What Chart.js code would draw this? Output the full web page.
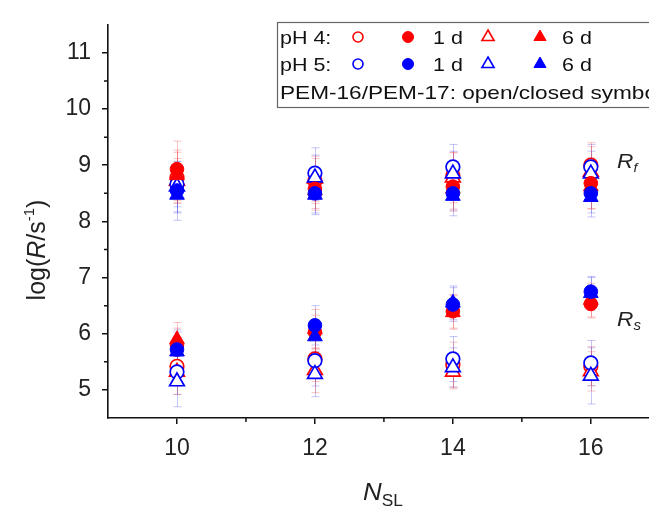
<!DOCTYPE html>
<html><head><meta charset="utf-8">
<script src="https://cdn.jsdelivr.net/npm/chart.js@4/dist/chart.umd.min.js"></script>
<style>
html,body{margin:0;padding:0;background:#fff;overflow:hidden;width:649px;height:508px}
#wrap{position:absolute;left:0;top:0;width:670px;height:508px}
</style>
</head><body><div id="wrap"><canvas id="c" width="670" height="508"></canvas></div>
<script>
// ---- categories / ticks ----
const nSL = [10, 12, 14, 16];
const xTicks = [10, 12, 14, 16];
const xMinorTicks = [11, 13, 15];
const yTicks = [5, 6, 7, 8, 9, 10, 11];
const yMinorTicks = [5.5, 6.5, 7.5, 8.5, 9.5, 10.5];

// ---- log(R_f) values (upper group) ----
const pH4_PEM16_1d_Rf = [8.78, 8.72, 8.82, 9.00];
const pH4_PEM17_1d_Rf = [8.93, 8.58, 8.62, 8.68];
const pH4_PEM16_6d_Rf = [8.72, 8.76, 8.78, 8.88];
const pH4_PEM17_6d_Rf = [8.82, 8.55, 8.58, 8.62];
const pH5_PEM16_1d_Rf = [8.66, 8.86, 8.97, 8.97];
const pH5_PEM17_1d_Rf = [8.55, 8.50, 8.50, 8.50];
const pH5_PEM16_6d_Rf = [8.62, 8.78, 8.85, 8.85];
const pH5_PEM17_6d_Rf = [8.47, 8.47, 8.45, 8.43];
// ---- log(R_s) values (lower group) ----
const pH4_PEM16_1d_Rs = [5.42, 5.55, 5.45, 5.42];
const pH4_PEM17_1d_Rs = [5.80, 6.03, 6.40, 6.53];
const pH4_PEM16_6d_Rs = [5.32, 5.35, 5.32, 5.33];
const pH4_PEM17_6d_Rs = [5.90, 6.08, 6.38, 6.60];
const pH5_PEM16_1d_Rs = [5.32, 5.52, 5.55, 5.48];
const pH5_PEM17_1d_Rs = [5.72, 6.15, 6.52, 6.75];
const pH5_PEM16_6d_Rs = [5.15, 5.28, 5.40, 5.25];
const pH5_PEM17_6d_Rs = [5.68, 5.95, 6.55, 6.72];
// ---- error bars (± in log units) ----
const pH4_PEM16_1d_Rf_err = [0.45, 0.40, 0.40, 0.40];
const pH4_PEM17_1d_Rf_err = [0.50, 0.35, 0.40, 0.45];
const pH4_PEM16_6d_Rf_err = [0.40, 0.40, 0.45, 0.45];
const pH4_PEM17_6d_Rf_err = [0.45, 0.35, 0.40, 0.40];
const pH5_PEM16_1d_Rf_err = [0.40, 0.45, 0.40, 0.40];
const pH5_PEM17_1d_Rf_err = [0.40, 0.35, 0.30, 0.35];
const pH5_PEM16_6d_Rf_err = [0.45, 0.40, 0.40, 0.40];
const pH5_PEM17_6d_Rf_err = [0.45, 0.35, 0.35, 0.35];
const pH4_PEM16_1d_Rs_err = [0.35, 0.40, 0.40, 0.35];
const pH4_PEM17_1d_Rs_err = [0.30, 0.30, 0.30, 0.25];
const pH4_PEM16_6d_Rs_err = [0.40, 0.40, 0.30, 0.35];
const pH4_PEM17_6d_Rs_err = [0.30, 0.35, 0.30, 0.30];
const pH5_PEM16_1d_Rs_err = [0.40, 0.45, 0.40, 0.40];
const pH5_PEM17_1d_Rs_err = [0.35, 0.35, 0.30, 0.25];
const pH5_PEM16_6d_Rs_err = [0.45, 0.40, 0.35, 0.50];
const pH5_PEM17_6d_Rs_err = [0.35, 0.30, 0.30, 0.30];

const RED = '#ff0000', BLUE = '#0000ff';
const FONT = "'Liberation Sans', Arial, sans-serif";

function pts(a, b) {
  return nSL.map((x, i) => ({x, y: a[i]})).concat(nSL.map((x, i) => ({x, y: b[i]})));
}
function mk(label, rf, rs, ef, es, color, style, filled) {
  return {
    label, data: pts(rf, rs), errors: ef.concat(es),
    errColor: color === RED ? 'rgba(235,70,70,0.32)' : 'rgba(70,70,235,0.32)',
    pointStyle: style,
    pointRadius: style === 'triangle' ? 8.5 : 6.8,
    pointBackgroundColor: filled ? color : '#ffffff',
    pointBorderColor: color,
    pointBorderWidth: filled ? 1 : 1.7,
    showLine: false
  };
}
// index 0 is drawn on top
const datasets = [
  mk('pH 5 PEM-17 6 d', pH5_PEM17_6d_Rf, pH5_PEM17_6d_Rs, pH5_PEM17_6d_Rf_err, pH5_PEM17_6d_Rs_err, BLUE, 'triangle', true),
  mk('pH 5 PEM-17 1 d', pH5_PEM17_1d_Rf, pH5_PEM17_1d_Rs, pH5_PEM17_1d_Rf_err, pH5_PEM17_1d_Rs_err, BLUE, 'circle', true),
  mk('pH 4 PEM-17 6 d', pH4_PEM17_6d_Rf, pH4_PEM17_6d_Rs, pH4_PEM17_6d_Rf_err, pH4_PEM17_6d_Rs_err, RED, 'triangle', true),
  mk('pH 4 PEM-17 1 d', pH4_PEM17_1d_Rf, pH4_PEM17_1d_Rs, pH4_PEM17_1d_Rf_err, pH4_PEM17_1d_Rs_err, RED, 'circle', true),
  mk('pH 5 PEM-16 6 d', pH5_PEM16_6d_Rf, pH5_PEM16_6d_Rs, pH5_PEM16_6d_Rf_err, pH5_PEM16_6d_Rs_err, BLUE, 'triangle', false),
  mk('pH 5 PEM-16 1 d', pH5_PEM16_1d_Rf, pH5_PEM16_1d_Rs, pH5_PEM16_1d_Rf_err, pH5_PEM16_1d_Rs_err, BLUE, 'circle', false),
  mk('pH 4 PEM-16 6 d', pH4_PEM16_6d_Rf, pH4_PEM16_6d_Rs, pH4_PEM16_6d_Rf_err, pH4_PEM16_6d_Rs_err, RED, 'triangle', false),
  mk('pH 4 PEM-16 1 d', pH4_PEM16_1d_Rf, pH4_PEM16_1d_Rs, pH4_PEM16_1d_Rf_err, pH4_PEM16_1d_Rs_err, RED, 'circle', false)
];

function drawMarker(ctx, style, x, y, r, color, filled) {
  ctx.save();
  ctx.beginPath();
  if (style === 'circle') {
    ctx.arc(x, y, r, 0, Math.PI * 2);
  } else {
    let a = 0;
    for (let k = 0; k < 3; k++) {
      const px = x + Math.sin(a) * r, py = y - Math.cos(a) * r;
      if (k === 0) ctx.moveTo(px, py); else ctx.lineTo(px, py);
      a += Math.PI * 2 / 3;
    }
    ctx.closePath();
  }
  ctx.fillStyle = filled ? color : '#fff';
  ctx.fill();
  ctx.lineWidth = filled ? 1 : 1.6;
  ctx.strokeStyle = color;
  ctx.stroke();
  ctx.restore();
}

function drawRich(ctx, parts, x, y, align, sx) {
  // parts: [text, font, dy]; sx = horizontal stretch
  sx = sx || 1;
  let w = 0;
  parts.forEach(p => { ctx.font = p[1]; w += ctx.measureText(p[0]).width; });
  ctx.save();
  ctx.translate(x, y);
  ctx.scale(sx, 1);
  let cx = align === 'center' ? -w / 2 : 0;
  parts.forEach(p => {
    ctx.font = p[1];
    ctx.fillText(p[0], cx, p[2] || 0);
    cx += ctx.measureText(p[0]).width;
  });
  ctx.restore();
}

const extras = {
  id: 'extras',
  beforeDatasetsDraw(chart) {
    const ctx = chart.ctx, ys = chart.scales.y;
    chart.data.datasets.forEach((ds, i) => {
      const meta = chart.getDatasetMeta(i);
      ctx.save();
      ctx.strokeStyle = ds.errColor;
      ctx.lineWidth = 1;
      meta.data.forEach((pt, j) => {
        const v = ds.data[j].y, e = ds.errors[j];
        const x = Math.round(pt.x) + 0.5;
        const y1 = ys.getPixelForValue(v + e), y2 = ys.getPixelForValue(v - e);
        ctx.beginPath();
        ctx.moveTo(x, y1); ctx.lineTo(x, y2);
        ctx.moveTo(x - 4, y1); ctx.lineTo(x + 4, y1);
        ctx.moveTo(x - 4, y2); ctx.lineTo(x + 4, y2);
        ctx.stroke();
      });
      ctx.restore();
    });
  },
  afterDraw(chart) {
    const ctx = chart.ctx, xs = chart.scales.x, ys = chart.scales.y, ca = chart.chartArea;
    ctx.save();
    // minor ticks
    ctx.strokeStyle = '#111';
    ctx.lineWidth = 1.5;
    ctx.beginPath();
    xMinorTicks.forEach(v => {
      const x = xs.getPixelForValue(v);
      ctx.moveTo(x, ca.bottom); ctx.lineTo(x, ca.bottom + 4);
    });
    yMinorTicks.forEach(v => {
      const y = ys.getPixelForValue(v);
      ctx.moveTo(ca.left, y); ctx.lineTo(ca.left - 4, y);
    });
    ctx.stroke();

    ctx.fillStyle = '#222';
    ctx.textBaseline = 'alphabetic';
    // y axis title
    ctx.save();
    ctx.translate(45, 250);
    ctx.rotate(-Math.PI / 2);
    drawRich(ctx, [
      ['log(', '25px ' + FONT],
      ['R', 'italic 25px ' + FONT],
      ['/s', '25px ' + FONT],
      ['-1', '15px ' + FONT, -11],
      [')', '25px ' + FONT]
    ], 0, 0, 'center');
    ctx.restore();
    // x axis title
    drawRich(ctx, [
      ['N', 'italic 24px ' + FONT],
      ['SL', '16px ' + FONT, 6]
    ], 383, 500, 'center', 1.08);
    // group labels
    drawRich(ctx, [['R', 'italic 21px ' + FONT], ['f', 'italic 13px ' + FONT, 4]], 617, 168, 'left', 1.08);
    drawRich(ctx, [['R', 'italic 21px ' + FONT], ['s', 'italic 14px ' + FONT, 4]], 617, 326, 'left', 1.08);

    // legend box
    ctx.strokeStyle = '#666';
    ctx.lineWidth = 1.2;
    ctx.strokeRect(277.5, 22.5, 420, 85);
    const LF = '19px ' + FONT;
    const rows = [[44, 'pH 4:', RED], [71, 'pH 5:', BLUE]];
    rows.forEach(([by, lab, col]) => {
      const cy = by - 7;
      ctx.fillStyle = '#111';
      drawRich(ctx, [[lab, LF]], 280, by, 'left', 1.13);
      drawMarker(ctx, 'circle', 358, cy, 5, col, false);
      drawMarker(ctx, 'circle', 408, cy, 5.5, col, true);
      ctx.fillStyle = '#111';
      drawRich(ctx, [['1 d', LF]], 433, by, 'left', 1.13);
      drawMarker(ctx, 'triangle', 488, cy, 7, col, false);
      drawMarker(ctx, 'triangle', 540, cy, 7, col, true);
      ctx.fillStyle = '#111';
      drawRich(ctx, [['6 d', LF]], 562, by, 'left', 1.13);
    });
    ctx.fillStyle = '#111';
    drawRich(ctx, [['PEM-16/PEM-17: open/closed symbols', LF]], 280, 99, 'left', 1.19);
    ctx.restore();
  }
};

new Chart(document.getElementById('c'), {
  type: 'scatter',
  data: { datasets },
  plugins: [extras],
  options: {
    responsive: false,
    animation: false,
    devicePixelRatio: 1,
    layout: { padding: { top: 20, right: 8, left: 0, bottom: 0 } },
    plugins: { legend: { display: false }, tooltip: { enabled: false } },
    scales: {
      x: {
        type: 'linear', min: 9, max: 17,
        afterBuildTicks: s => { s.ticks = xTicks.map(v => ({ value: v })); },
        afterFit: s => { s.height = 90; },
        ticks: { color: '#222', font: { family: FONT, size: 23 }, padding: 11, maxRotation: 0 },
        grid: { display: true, drawOnChartArea: false, drawTicks: true, tickLength: 6, color: '#111', lineWidth: 1.5 },
        border: { display: true, color: '#111', width: 1.6 }
      },
      y: {
        type: 'linear', min: 4.5, max: 11.5,
        afterBuildTicks: s => { s.ticks = yTicks.map(v => ({ value: v })); },
        afterFit: s => { s.width = 108; },
        ticks: { color: '#222', font: { family: FONT, size: 23 }, padding: 11 },
        grid: { display: true, drawOnChartArea: false, drawTicks: true, tickLength: 6, color: '#111', lineWidth: 1.5 },
        border: { display: true, color: '#111', width: 1.6 }
      }
    }
  }
});
</script>
</body></html>
